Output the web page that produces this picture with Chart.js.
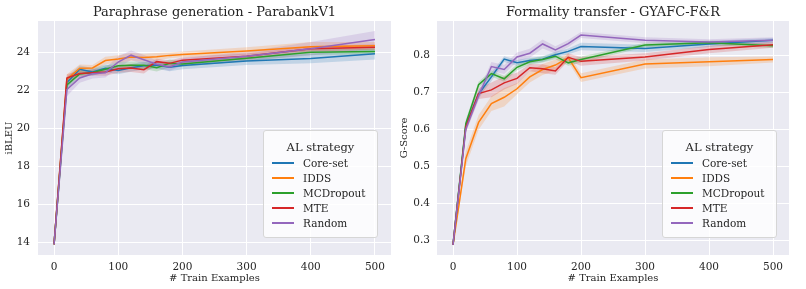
<!DOCTYPE html>
<html lang="en">
<head>
  <meta charset="UTF-8" />
  <title>AL strategies</title>
  <script src="https://cdn.jsdelivr.net/npm/chart.js"></script>
  <style>
    body { margin: 0; background: #fff; }
    #wrap { position: relative; width: 806px; height: 289px; font-family: "DejaVu Serif", serif; color: #262626; }
    canvas { position: absolute; top: 0; }
    .legend {
      position: absolute; top: 130px; width: 115px; height: 108px; box-sizing: border-box;
      background: rgba(255,255,255,0.8); border: 1px solid #d6d6d6; border-radius: 3px;
      padding-top: 9px;
    }
    .legend .ttl { text-align: center; font-size: 11.5px; line-height: 15px; }
    .legend .row { display: flex; align-items: center; height: 15px; font-size: 10.5px; }
    .legend .sw { width: 22px; height: 2px; margin-left: 8px; margin-right: 9px; }
  </style>
</head>
<body>
  <div id="wrap">
    <canvas id="leftChart" width="398" height="289" style="left:0"></canvas>
    <canvas id="rightChart" width="408" height="289" style="left:398px"></canvas>
    <div class="legend" id="legLeft" style="left:263px"></div>
    <div class="legend" id="legRight" style="left:662px"></div>
  </div>

  <script>
    const trainSizes = [0, 20, 40, 60, 80, 100, 120, 140, 160, 180, 200, 300, 400, 500];
    const strategies = ['Core-set', 'IDDS', 'MCDropout', 'MTE', 'Random'];
    const colors = ['#1f77b4', '#ff7f0e', '#2ca02c', '#d62728', '#9467bd'];

    // Paraphrase generation - ParabankV1 (iBLEU), mean and half-width of band
    const pgCoreset   = [13.9, 22.42, 23.12, 22.98, 23.17, 23.06, 23.2, 23.3, 23.34, 23.22, 23.32, 23.55, 23.68, 23.93];
    const pgIdds      = [13.9, 22.6, 23.17, 23.19, 23.58, 23.66, 23.77, 23.74, 23.78, 23.85, 23.9, 24.08, 24.3, 24.36];
    const pgMcdropout = [13.9, 22.3, 22.87, 22.95, 23.12, 23.3, 23.33, 23.33, 23.2, 23.43, 23.4, 23.7, 24.02, 24.06];
    const pgMte       = [13.9, 22.66, 22.9, 22.94, 22.98, 23.14, 23.18, 23.1, 23.52, 23.43, 23.6, 23.8, 24.2, 24.28];
    const pgRandom    = [13.9, 22.05, 22.66, 22.88, 22.94, 23.5, 23.86, 23.62, 23.38, 23.24, 23.5, 23.8, 24.2, 24.68];
    const pgCiCoreset   = [0.05, 0.3, 0.2, 0.2, 0.2, 0.2, 0.2, 0.2, 0.2, 0.2, 0.2, 0.2, 0.25, 0.3];
    const pgCiIdds      = [0.05, 0.25, 0.2, 0.15, 0.2, 0.2, 0.2, 0.2, 0.2, 0.15, 0.15, 0.2, 0.25, 0.2];
    const pgCiMcdropout = [0.05, 0.3, 0.2, 0.15, 0.2, 0.2, 0.2, 0.2, 0.2, 0.2, 0.15, 0.15, 0.15, 0.15];
    const pgCiMte       = [0.05, 0.2, 0.15, 0.15, 0.2, 0.2, 0.2, 0.2, 0.15, 0.15, 0.15, 0.15, 0.15, 0.15];
    const pgCiRandom    = [0.05, 0.35, 0.25, 0.25, 0.25, 0.3, 0.25, 0.25, 0.2, 0.2, 0.2, 0.25, 0.35, 0.45];
    const pgTicks = [14, 16, 18, 20, 22, 24];

    // Formality transfer - GYAFC-F&R (G-Score)
    const ftCoreset   = [0.287, 0.61, 0.695, 0.741, 0.789, 0.779, 0.785, 0.789, 0.801, 0.81, 0.823, 0.818, 0.83, 0.84];
    const ftIdds      = [0.287, 0.52, 0.618, 0.669, 0.686, 0.709, 0.741, 0.761, 0.773, 0.793, 0.739, 0.776, 0.782, 0.788];
    const ftMcdropout = [0.287, 0.615, 0.72, 0.75, 0.736, 0.767, 0.782, 0.788, 0.797, 0.779, 0.788, 0.827, 0.833, 0.825];
    const ftMte       = [0.287, 0.605, 0.696, 0.706, 0.725, 0.737, 0.766, 0.763, 0.757, 0.794, 0.783, 0.795, 0.815, 0.828];
    const ftRandom    = [0.287, 0.6, 0.69, 0.769, 0.761, 0.795, 0.805, 0.83, 0.814, 0.831, 0.854, 0.84, 0.835, 0.84];
    const ftCiCoreset   = [0.003, 0.01, 0.01, 0.012, 0.008, 0.008, 0.008, 0.008, 0.008, 0.008, 0.01, 0.01, 0.008, 0.006];
    const ftCiIdds      = [0.003, 0.02, 0.02, 0.02, 0.025, 0.015, 0.015, 0.015, 0.015, 0.012, 0.012, 0.012, 0.012, 0.008];
    const ftCiMcdropout = [0.003, 0.01, 0.008, 0.008, 0.008, 0.008, 0.008, 0.008, 0.008, 0.008, 0.008, 0.006, 0.006, 0.006];
    const ftCiMte       = [0.003, 0.012, 0.015, 0.02, 0.018, 0.015, 0.01, 0.012, 0.01, 0.01, 0.012, 0.01, 0.01, 0.008];
    const ftCiRandom    = [0.003, 0.01, 0.012, 0.012, 0.012, 0.012, 0.012, 0.012, 0.01, 0.01, 0.008, 0.008, 0.008, 0.008];
    const ftTicks = [0.3, 0.4, 0.5, 0.6, 0.7, 0.8];

    const xTicks = [0, 100, 200, 300, 400, 500];

    function rgba(hex, a) {
      const n = parseInt(hex.slice(1), 16);
      return `rgba(${n >> 16},${(n >> 8) & 255},${n & 255},${a})`;
    }

    function buildDatasets(means, cis) {
      const ds = [];
      means.forEach((vals, k) => {
        const pts = (off) => trainSizes.map((x, j) => ({ x: x, y: vals[j] + off * cis[k][j] }));
        ds.push({ data: pts(1), fill: '+1', backgroundColor: rgba(colors[k], 0.2),
                  borderWidth: 0, pointRadius: 0, order: 20 - 2 * k });
        ds.push({ data: pts(-1), fill: false, borderWidth: 0, pointRadius: 0, order: 20 - 2 * k });
        ds.push({ label: strategies[k], data: pts(0), borderColor: colors[k], borderWidth: 1.5,
                  pointRadius: 0, fill: false, tension: 0, order: 10 - k });
      });
      return ds;
    }

    const plotBg = {
      id: 'plotBg',
      beforeDraw(chart) {
        const a = chart.chartArea, c = chart.ctx;
        c.save();
        c.fillStyle = '#eaeaf2';
        c.fillRect(a.left, a.top, a.right - a.left, a.bottom - a.top);
        c.restore();
      }
    };

    function makeChart(id, opts) {
      const font = { family: '"DejaVu Serif", serif' };
      return new Chart(document.getElementById(id), {
        type: 'line',
        data: { datasets: buildDatasets(opts.means, opts.cis) },
        plugins: [plotBg],
        options: {
          responsive: false,
          animation: false,
          layout: { padding: { left: 0, right: opts.right, top: 0, bottom: 0 } },
          plugins: {
            legend: { display: false },
            tooltip: { enabled: false },
            title: {
              display: true, text: opts.title, color: '#262626', fullSize: false,
              font: { ...font, size: 13, weight: 'normal' }, padding: { top: 5, bottom: 0.4 }
            }
          },
          scales: {
            x: {
              type: 'linear', min: -25, max: 525,
              afterBuildTicks: s => { s.ticks = xTicks.map(v => ({ value: v })); },
              afterFit: s => { s.height = 34; },
              grid: { color: '#ffffff', lineWidth: 1, drawTicks: false },
              border: { display: false },
              ticks: { color: '#262626', padding: 6, font: { ...font, size: 10.5 } },
              title: { display: true, text: '# Train Examples', color: '#262626',
                       font: { ...font, size: 10 }, padding: { top: 0, bottom: 5 } }
            },
            y: {
              type: 'linear', min: opts.ymin, max: opts.ymax,
              afterBuildTicks: s => { s.ticks = opts.ticks.map(v => ({ value: v })); },
              afterFit: s => { s.width = opts.yw; },
              grid: { color: '#ffffff', lineWidth: 1, drawTicks: false },
              border: { display: false },
              ticks: { color: '#262626', padding: opts.tp, font: { ...font, size: 10.5 }, callback: opts.fmt },
              title: { display: true, text: opts.ylabel, color: '#262626',
                       font: { ...font, size: 10 }, padding: { top: opts.ytp, bottom: 0 } }
            }
          }
        }
      });
    }

    makeChart('leftChart', {
      title: 'Paraphrase generation - ParabankV1', ylabel: 'iBLEU',
      means: [pgCoreset, pgIdds, pgMcdropout, pgMte, pgRandom],
      cis: [pgCiCoreset, pgCiIdds, pgCiMcdropout, pgCiMte, pgCiRandom],
      ymin: 13.34, ymax: 25.66, ticks: pgTicks, yw: 38, right: 7, tp: 8, ytp: 3,
      fmt: v => String(v)
    });

    makeChart('rightChart', {
      title: 'Formality transfer - GYAFC-F&R', ylabel: 'G-Score',
      means: [ftCoreset, ftIdds, ftMcdropout, ftMte, ftRandom],
      cis: [ftCiCoreset, ftCiIdds, ftCiMcdropout, ftCiMte, ftCiRandom],
      ymin: 0.26, ymax: 0.892, ticks: ftTicks, yw: 39, right: 17, tp: 7, ytp: 0,
      fmt: v => v.toFixed(1)
    });

    function fillLegend(id) {
      const el = document.getElementById(id);
      let html = '<div class="ttl">AL strategy</div>';
      strategies.forEach((s, k) => {
        html += `<div class="row"><span class="sw" style="background:${colors[k]}"></span>${s}</div>`;
      });
      el.innerHTML = html;
    }
    fillLegend('legLeft');
    fillLegend('legRight');
  </script>
</body>
</html>
